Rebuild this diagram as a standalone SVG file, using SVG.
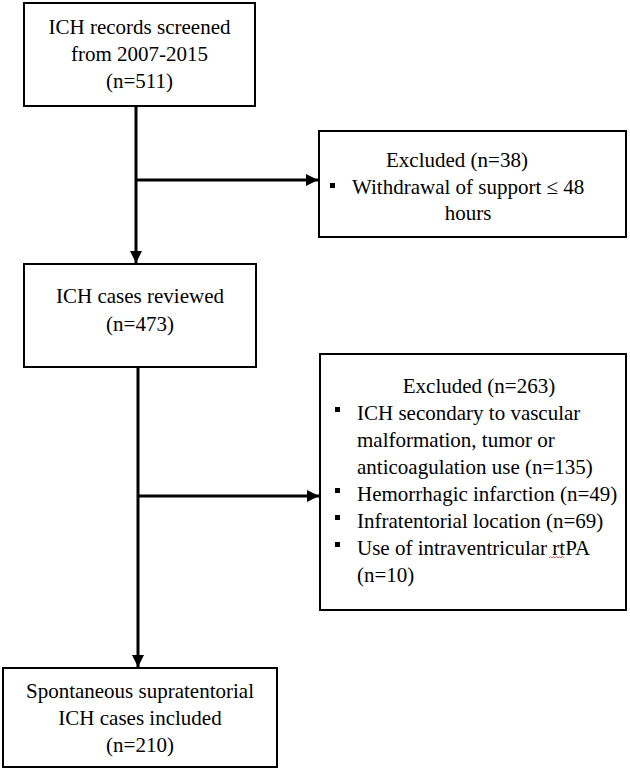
<svg xmlns="http://www.w3.org/2000/svg" width="630" height="771" viewBox="0 0 630 771">
<style>
.box{fill:#fff;stroke:#000;stroke-width:2}
.t{font-family:"Liberation Serif","Times New Roman",serif;font-size:21px;fill:#000}
.c{text-anchor:middle}
.ln{stroke:#000;stroke-width:3;fill:none}
.b{fill:#000}
</style>
<defs>
<marker id="ah" viewBox="0 0 10 10" refX="10" refY="5" markerWidth="4" markerHeight="4" orient="auto" markerUnits="strokeWidth">
<path d="M0,0 L10,5 L0,10 z" fill="#000"/>
</marker>
</defs>
<rect width="630" height="771" fill="#fff"/>
<g id="connectors">
<line class="ln" x1="136" y1="106" x2="136" y2="263" marker-end="url(#ah)"/>
<line class="ln" x1="136" y1="180" x2="318" y2="180" marker-end="url(#ah)"/>
<line class="ln" x1="138" y1="367" x2="138" y2="667" marker-end="url(#ah)"/>
<line class="ln" x1="138" y1="496" x2="319" y2="496" marker-end="url(#ah)"/>
</g>
<g id="records">
<rect class="box" x="24" y="3" width="231" height="103"/>
<text class="t c" x="139.5" y="34">ICH records screened</text>
<text class="t c" x="139.5" y="61">from 2007-2015</text>
<text class="t c" x="139.5" y="88">(n=511)</text>
</g>
<g id="excluded1">
<rect class="box" x="319" y="131" width="307" height="106"/>
<text class="t c" x="457" y="167">Excluded (n=38)</text>
<rect class="b" x="330" y="183" width="5" height="5"/>
<text class="t" x="352" y="194">Withdrawal of support ≤ 48</text>
<text class="t c" x="468" y="220">hours</text>
</g>
<g id="reviewed">
<rect class="box" x="24" y="264" width="232" height="103"/>
<text class="t c" x="140" y="303">ICH cases reviewed</text>
<text class="t c" x="140" y="331">(n=473)</text>
</g>
<g id="excluded2">
<rect class="box" x="320" y="354" width="306" height="256"/>
<text class="t c" x="479" y="393">Excluded (n=263)</text>
<rect class="b" x="335" y="407" width="5" height="5"/>
<text class="t" x="357" y="420">ICH secondary to vascular</text>
<text class="t" x="357" y="447">malformation, tumor or</text>
<text class="t" x="357" y="474">anticoagulation use (n=135)</text>
<rect class="b" x="335" y="488" width="5" height="5"/>
<text class="t" x="357" y="501">Hemorrhagic infarction (n=49)</text>
<rect class="b" x="335" y="515" width="5" height="5"/>
<text class="t" x="357" y="528">Infratentorial location (n=69)</text>
<rect class="b" x="335" y="542" width="5" height="5"/>
<text class="t" x="357" y="555">Use of intraventricular rtPA</text>
<path d="M549,558 l1.5,-1.5 l1.5,1.5 l1.5,-1.5 l1.5,1.5 l1.5,-1.5 l1.5,1.5 l1.5,-1.5 l1.5,1.5 l1.5,-1.5 l1.5,1.5" fill="none" stroke="#e03030" stroke-width="0.8"/>
<text class="t" x="357" y="582">(n=10)</text>
</g>
<g id="included">
<rect class="box" x="3" y="668" width="274" height="99"/>
<text class="t c" x="140" y="698">Spontaneous supratentorial</text>
<text class="t c" x="140" y="725">ICH cases included</text>
<text class="t c" x="140" y="752">(n=210)</text>
</g>
</svg>
